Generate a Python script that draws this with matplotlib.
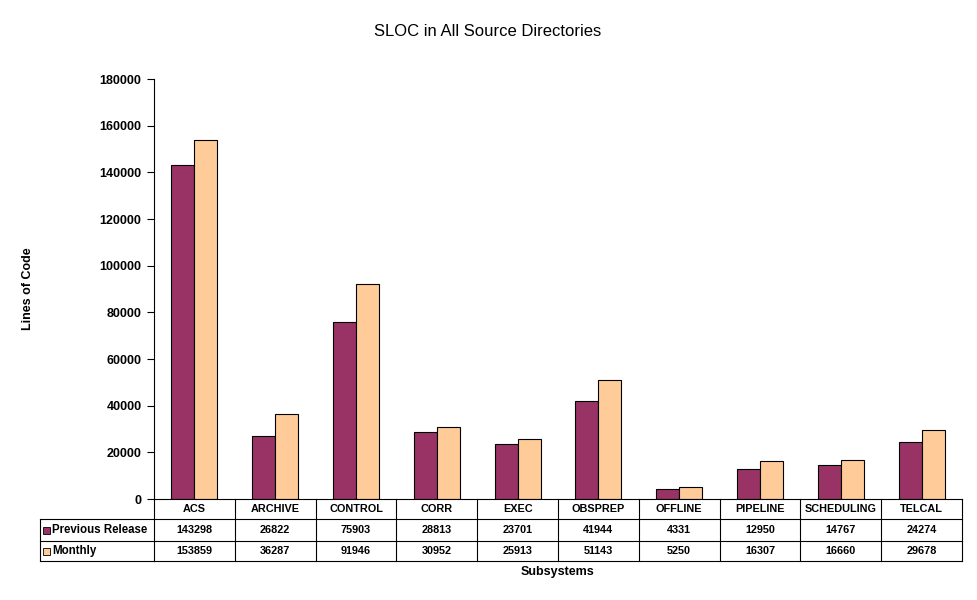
import matplotlib.pyplot as plt
from matplotlib.patches import Rectangle
from matplotlib.transforms import blended_transform_factory

plt.rcParams['font.family'] = ['Liberation Sans', 'DejaVu Sans']

subsystems = ['ACS', 'ARCHIVE', 'CONTROL', 'CORR', 'EXEC', 'OBSPREP',
              'OFFLINE', 'PIPELINE', 'SCHEDULING', 'TELCAL']
previous_release = [143298, 26822, 75903, 28813, 23701, 41944, 4331, 12950, 14767, 24274]
monthly = [153859, 36287, 91946, 30952, 25913, 51143, 5250, 16307, 16660, 29678]
series_names = ['Previous Release', 'Monthly']
colors = ['#993366', '#FFCC99']

W, H = 977, 600
fig = plt.figure(figsize=(W / 100, H / 100), dpi=100)
ax = fig.add_axes([154 / W, 1 - 499 / H, 808 / W, 420 / H])

n = len(subsystems)
xs = list(range(n))
bw = 0.285
ax.bar([x - bw / 2 for x in xs], previous_release, bw, color=colors[0], edgecolor='black', linewidth=0.8)
ax.bar([x + bw / 2 for x in xs], monthly, bw, color=colors[1], edgecolor='black', linewidth=0.8)

ax.set_xlim(-0.5, n - 0.5)
ax.set_ylim(0, 180000)
ax.set_yticks(range(0, 180001, 20000))
ax.tick_params(axis='y', direction='out', length=5, width=0.8, labelsize=9, pad=4)
for lab in ax.get_yticklabels():
    lab.set_fontweight('bold')
ax.set_xticks([])
for s in ['top', 'right']:
    ax.spines[s].set_visible(False)
ax.spines['left'].set_linewidth(0.8)
ax.spines['bottom'].set_linewidth(0.8)

# data table below the plot
tr = blended_transform_factory(ax.transData, ax.transAxes)
ah = 420.0
row_edges = [0, -20 / ah, -42 / ah, -62 / ah]
lw = 0.8
fs = 7.8
for k in range(n + 1):
    ax.plot([k - 0.5, k - 0.5], [row_edges[0], row_edges[3]], color='black', lw=lw,
            transform=tr, clip_on=False)
for y in row_edges[1:]:
    ax.plot([-0.5, n - 0.5], [y, y], color='black', lw=lw, transform=tr, clip_on=False)

label_left = -114 / 80.8 - 0.5
for y in row_edges[1:]:
    ax.plot([label_left, -0.5], [y, y], color='black', lw=lw, transform=tr, clip_on=False)
ax.plot([label_left, label_left], [row_edges[1], row_edges[3]], color='black', lw=lw,
        transform=tr, clip_on=False)

for i, name in enumerate(subsystems):
    ax.text(i, (row_edges[0] + row_edges[1]) / 2, name, transform=tr, ha='center', va='center',
            fontsize=fs, fontweight='bold')
    for r, vals in enumerate([previous_release, monthly]):
        ax.text(i, (row_edges[r + 1] + row_edges[r + 2]) / 2, str(vals[i]), transform=tr,
                ha='center', va='center', fontsize=fs, fontweight='bold')

for r, name in enumerate(series_names):
    yc = (row_edges[r + 1] + row_edges[r + 2]) / 2
    sq = 7 / 80.8
    ax.add_patch(Rectangle((label_left + 3 / 80.8, yc - 3.5 / ah), sq, 7 / ah, transform=tr,
                           facecolor=colors[r], edgecolor='black', lw=0.6, clip_on=False))
    ax.text(label_left + 12 / 80.8, yc, name, transform=tr, ha='left', va='center',
            fontsize=8.3, fontweight='bold')

fig.text(488 / W, 1 - 31 / H, 'SLOC in All Source Directories', ha='center', va='center', fontsize=12)
fig.text(28 / W, 1 - 289 / H, 'Lines of Code', ha='center', va='center', rotation=90,
         fontsize=9, fontweight='bold')
fig.text(558 / W, 1 - 572 / H, 'Subsystems', ha='center', va='center', fontsize=9, fontweight='bold')

fig.savefig('out.png', dpi=100)
